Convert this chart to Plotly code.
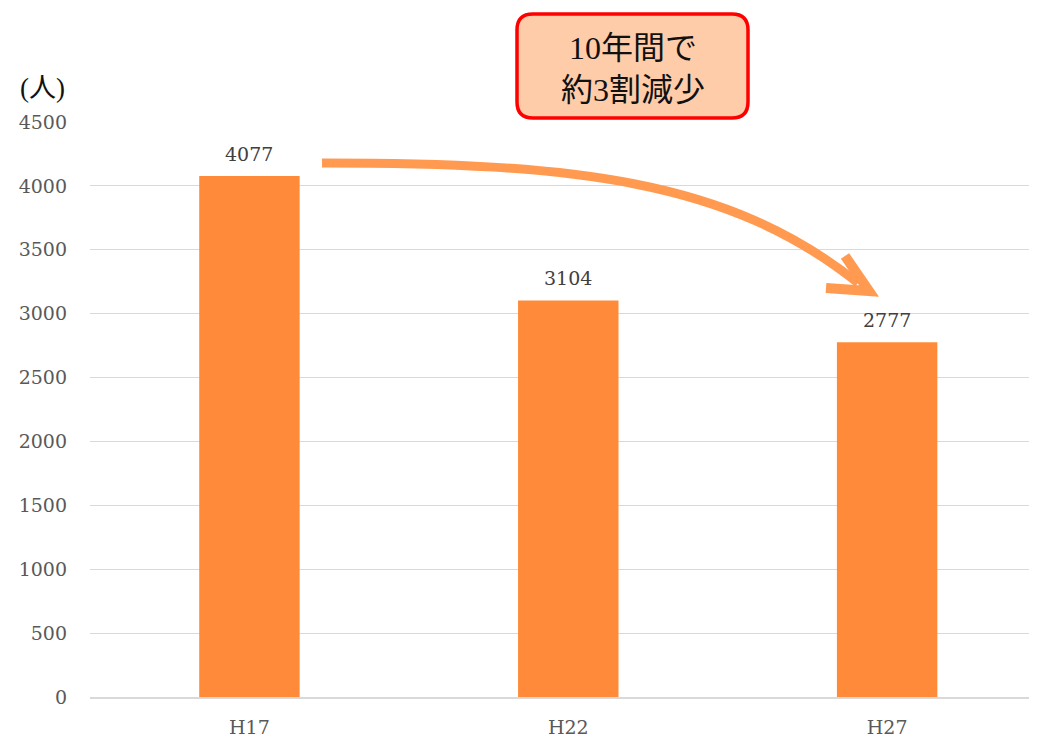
import plotly.graph_objects as go

categories = ["H17", "H22", "H27"]
values = [4077, 3104, 2777]
y_ticks = [0, 500, 1000, 1500, 2000, 2500, 3000, 3500, 4000, 4500]

# page body has an 8px margin; lay out in reference pixel coordinates
OFF = 8
W, H = 1037 - OFF, 741 - OFF
L_ref, T_ref, B = 90, 122, 44
L, T, R = L_ref - OFF, T_ref - OFF, 0
pw, ph = W - L - R, H - T - B
BOTTOM_ref = T_ref + ph

def px(x):
    return (x - L_ref) / pw

def py(y):
    return (BOTTOM_ref - y) / ph

bar_color = "#FF8B3A"
serif = "DejaVu Serif"

fig = go.Figure()
fig.add_trace(go.Bar(x=categories, y=values, marker_color=bar_color, marker_line_width=0,
                     width=0.315, hoverinfo="skip"))

for c, v in zip(categories, values):
    fig.add_annotation(x=c, y=v, text=str(v), showarrow=False, yanchor="bottom", yshift=9,
                       font=dict(family=serif, size=19, color="#404040"))

# rounded callout box
x0, x1, y0, y1, r = 517, 748, 14, 118, 16
path = (f"M {px(x0+r)},{py(y0)} L {px(x1-r)},{py(y0)} Q {px(x1)},{py(y0)} {px(x1)},{py(y0+r)} "
        f"L {px(x1)},{py(y1-r)} Q {px(x1)},{py(y1)} {px(x1-r)},{py(y1)} "
        f"L {px(x0+r)},{py(y1)} Q {px(x0)},{py(y1)} {px(x0)},{py(y1-r)} "
        f"L {px(x0)},{py(y0+r)} Q {px(x0)},{py(y0)} {px(x0+r)},{py(y0)} Z")
fig.add_shape(type="path", path=path, xref="paper", yref="paper",
              fillcolor="#FFCCAA", line=dict(color="#FF0000", width=3.5), layer="above")
fig.add_annotation(x=px((x0+x1)/2), y=py((y0+y1)/2 + 3), xref="paper", yref="paper",
                   text="10年間で<br>約3割減少", showarrow=False,
                   xanchor="center", yanchor="middle",
                   font=dict(family="Liberation Serif, Noto Sans CJK JP", size=32, color="#111111"),
                   align="center")

# curved arrow
arrow_color = "#FF9A50"
curve = (f"M {px(322)},{py(163)} C {px(572)},{py(163)} {px(728)},{py(179)} {px(858)},{py(283)}")
fig.add_shape(type="path", path=curve, xref="paper", yref="paper",
              line=dict(color=arrow_color, width=9), layer="above")
head = f"M {px(845)},{py(256)} L {px(869)},{py(291)} L {px(826)},{py(288)}"
fig.add_shape(type="path", path=head, xref="paper", yref="paper",
              line=dict(color=arrow_color, width=10), layer="above")

fig.add_annotation(x=px(42), y=py(88), xref="paper", yref="paper", text="(人)",
                   showarrow=False, xanchor="center", yanchor="middle",
                   font=dict(family="Liberation Serif, Noto Sans CJK JP", size=27, color="#111111"))

fig.update_layout(
    width=W, height=H,
    margin=dict(l=L, r=R, t=T, b=B),
    plot_bgcolor="white", paper_bgcolor="white",
    showlegend=False,
    xaxis=dict(range=[-0.5, 2.47], showgrid=False, showline=True, linecolor="#d9d9d9",
               linewidth=1.5, ticks="", ticklabelstandoff=12,
               tickfont=dict(family=serif, size=19, color="#595959")),
    yaxis=dict(range=[0, 4500], tickvals=y_ticks, showgrid=True, gridcolor="#d9d9d9",
               gridwidth=1.3, zeroline=False, showline=False, ticks="",
               ticklabelstandoff=22,
               tickfont=dict(family=serif, size=19, color="#595959")),
)

fig.write_html("out.html")
